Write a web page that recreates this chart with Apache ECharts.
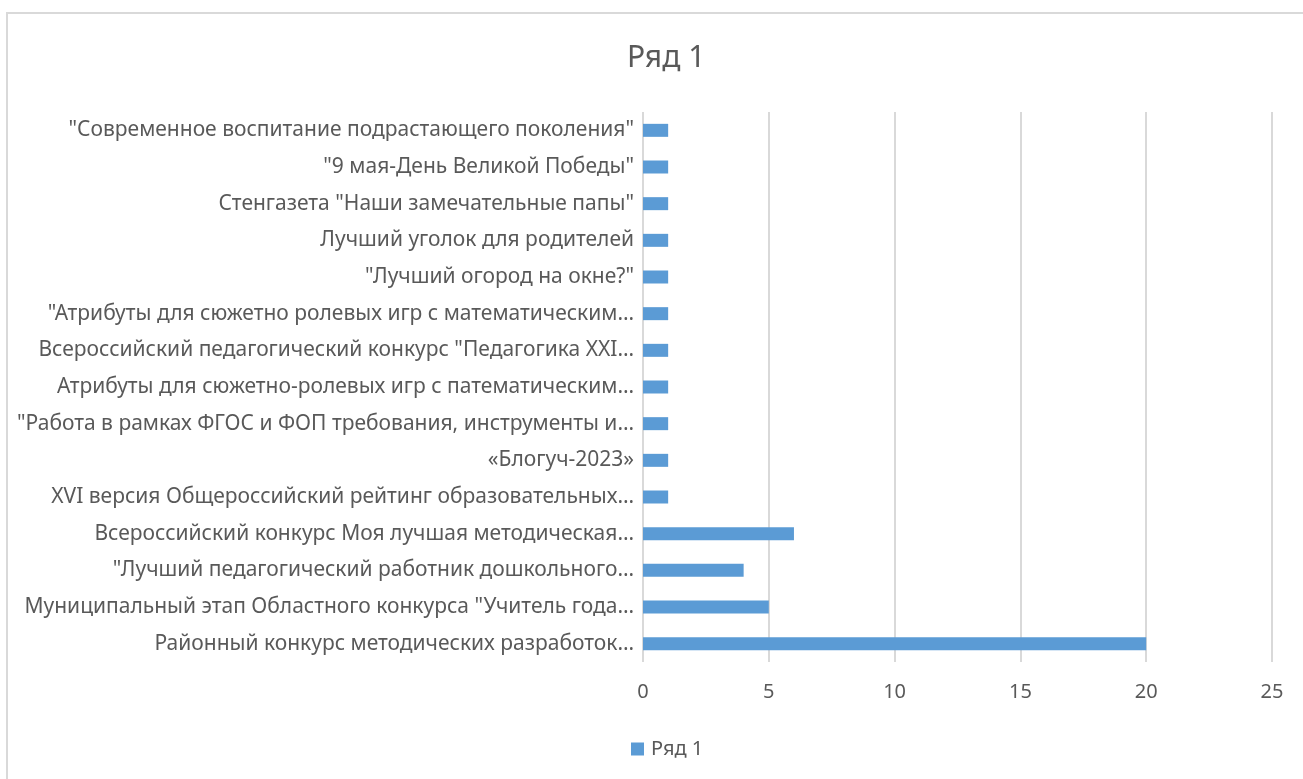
<!DOCTYPE html>
<html>
<head>
<meta charset="utf-8">
<script src="https://cdn.jsdelivr.net/npm/echarts@6/dist/echarts.min.js"></script>
<style>
  html, body { margin: 0; padding: 0; background: #fff; overflow: hidden; }
  #frame { position: absolute; left: 6px; top: 12px; width: 1310px; height: 800px; border: 2px solid #d9d9d9; box-sizing: border-box; }
  #chart { position: absolute; left: 0; top: 0; width: 1303px; height: 779px; }
</style>
</head>
<body>
<div id="frame"></div>
<div id="chart"></div>
<script>
// Categories listed bottom to top (as ECharts category y-axis draws them)
const categories = [
  'Районный конкурс методических разработок…',
  'Муниципальный этап Областного конкурса "Учитель года…',
  '"Лучший педагогический работник дошкольного…',
  'Всероссийский конкурс Моя лучшая методическая…',
  'XVI версия Общероссийский рейтинг образовательных…',
  '«Блогуч-2023»',
  '"Работа в рамках ФГОС и ФОП требования, инструменты и…',
  'Атрибуты для сюжетно-ролевых игр с патематическим…',
  'Всероссийский педагогический конкурс "Педагогика XXI…',
  '"Атрибуты для сюжетно ролевых игр с математическим…',
  '"Лучший огород на окне?"',
  'Лучший уголок для родителей',
  'Стенгазета "Наши замечательные папы"',
  '"9 мая-День Великой Победы"',
  '"Современное воспитание подрастающего поколения"'
];
const values = [20, 5, 4, 6, 1, 1, 1, 1, 1, 1, 1, 1, 1, 1, 1];
const seriesName = 'Ряд 1';
const xTicks = { min: 0, max: 25, interval: 5 };

const chart = echarts.init(document.getElementById('chart'));
const FONT = 'Noto Sans';
chart.setOption({
  backgroundColor: 'transparent',
  animation: false,
  title: {
    text: seriesName,
    left: 622,
    top: 38,
    textStyle: { fontFamily: FONT, fontSize: 30, fontWeight: 'normal', color: '#595959' }
  },
  legend: {
    top: 734,
    left: 626,
    itemWidth: 13,
    itemHeight: 13,
    itemGap: 6,
    icon: 'rect',
    textStyle: { fontFamily: FONT, fontSize: 20, color: '#595959', padding: [0, 0, 0, 2] },
    data: [seriesName]
  },
  grid: { left: 643, right: 31, top: 112, bottom: 117, containLabel: false },
  xAxis: {
    type: 'value',
    min: xTicks.min, max: xTicks.max, interval: xTicks.interval,
    axisLine: { show: false },
    axisTick: { show: false },
    axisLabel: { fontFamily: FONT, fontSize: 20, color: '#595959', margin: 20 },
    splitLine: { show: true, lineStyle: { color: '#d9d9d9', width: 2 } }
  },
  yAxis: {
    type: 'category',
    data: categories,
    axisLine: { show: false },
    axisTick: { show: false },
    axisLabel: { fontFamily: FONT, fontSize: 21, color: '#595959', margin: 9 }
  },
  series: [{
    name: seriesName,
    type: 'bar',
    data: values,
    barWidth: 13,
    itemStyle: { color: '#5b9bd5' }
  }]
});
</script>
</body>
</html>
